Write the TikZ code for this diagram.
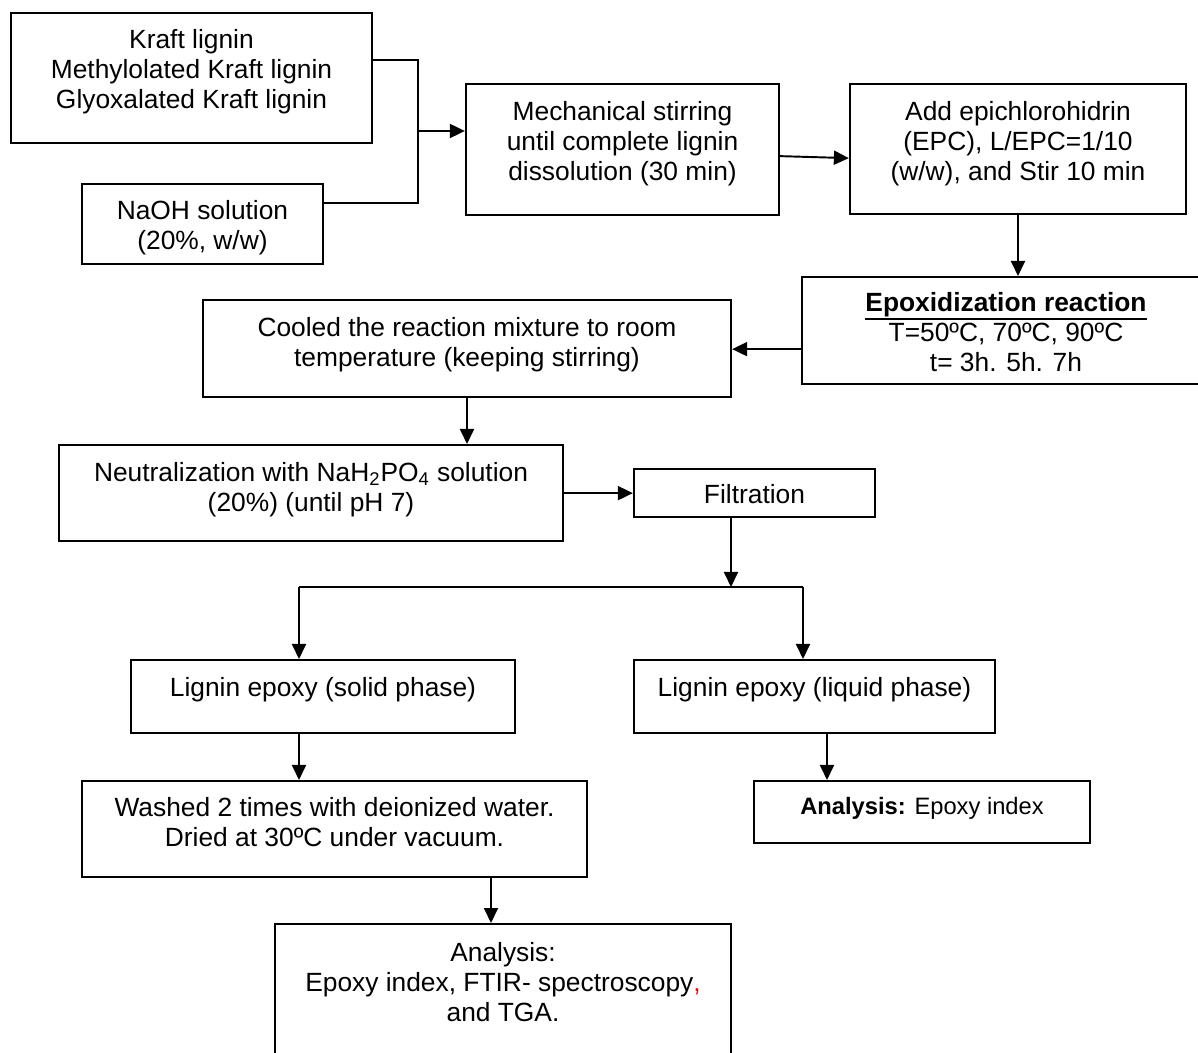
\documentclass[tikz,border=0pt]{standalone}
\usepackage{fontspec}
\setmainfont{Liberation Sans}
\usetikzlibrary{arrows.meta}
\newdimen\pxu \pxu=0.02cm
\newcommand\thickul[1]{\leavevmode\vtop{\hbox{#1}\kern0.6pt\hrule height1.4pt}}

\begin{document}
\begin{tikzpicture}[x=0.02cm, y=-0.02cm, font=\fontsize{15}{17}\selectfont,
  box/.style={draw, line width=1.3pt, align=center, anchor=north, inner xsep=0pt, inner ysep=0pt},
  link/.style={line width=1.1pt},
  arr/.style={link, -{Triangle[length=0.3cm,width=0.28cm]}}]
\useasboundingbox (0,0) rectangle (1198,1053);

% boxes, placed by the middle of their top edge
\node[box, minimum width=361\pxu, text height=95\pxu, text depth=35\pxu] (kraft) at (191.5,12) {Kraft lignin\\Methylolated Kraft lignin\\Glyoxalated Kraft lignin};
\node[box, minimum width=241\pxu, text height=65\pxu, text depth=15\pxu] (naoh) at (202.5,183) {NaOH solution\\(20\%, w/w)};
\node[box, minimum width=313\pxu, text height=96\pxu, text depth=35\pxu] (mech) at (622.5,83) {Mechanical stirring\\until complete lignin\\dissolution (30 min)};
\node[box, minimum width=336\pxu, text height=96\pxu, text depth=34\pxu] (epc) at (1018,83) {Add epichlorohidrin\\(EPC), L/EPC=1/10\\(w/w), and Stir 10 min};
\node[box, minimum width=408\pxu, text height=94\pxu, text depth=13\pxu] (epox) at (1006,276) {\thickul{\textbf{Epoxidization reaction}}\\T=50ºC, 70ºC, 90ºC\\t= 3h. 5h. 7h};
\node[box, minimum width=528\pxu, text height=66\pxu, text depth=31\pxu] (cool) at (467,299) {Cooled the reaction mixture to room\\temperature (keeping stirring)};
\node[box, minimum width=504\pxu, text height=66\pxu, text depth=30\pxu] (neut) at (311,444) {Neutralization with NaH\textsubscript{2}PO\textsubscript{4} solution\\(20\%) (until pH 7)};
\node[box, minimum width=241\pxu, text height=34\pxu, text depth=14\pxu] (filt) at (754.5,468) {Filtration};
\node[box, minimum width=384\pxu, text height=36\pxu, text depth=37\pxu] (solid) at (323,659) {Lignin epoxy (solid phase)};
\node[box, minimum width=361\pxu, text height=36\pxu, text depth=37\pxu] (liquid) at (814.5,659) {Lignin epoxy (liquid phase)};
\node[box, minimum width=505\pxu, text height=65\pxu, text depth=31\pxu] (washed) at (334.5,780) {Washed 2 times with deionized water.\\Dried at 30ºC under vacuum.};
\node[box, minimum width=336\pxu, text height=33\pxu, text depth=29\pxu, font=\fontsize{13.5}{16}\selectfont] (ana1) at (922,780) {\textbf{Analysis:} Epoxy index};
\node[box, minimum width=456\pxu, text height=97\pxu, text depth=43\pxu] (ana2) at (503,923) {Analysis:\\Epoxy index, FTIR- spectroscopy{\color{red},}\\and TGA.};

% connectors
\coordinate (join) at (418,131);
\draw[link] ([yshift=18\pxu]kraft.east) -| (join) |- ([yshift=21\pxu]naoh.east);
\draw[arr] (join) -- (join -| mech.west);
\draw[arr] ([yshift=-6.5\pxu]mech.east) -- ([yshift=-9\pxu]epc.west);
\draw[arr] (epc.south) -- (epc.south |- epox.north);
\coordinate (epin) at ([yshift=-18.5\pxu]epox.west);
\draw[arr] (epin) -- (epin -| cool.east);
\draw[arr] (cool.south) -- (cool.south |- neut.north);
\draw[arr] (neut.east) -- (neut.east -| filt.west);

\coordinate (split) at (731,587);
\coordinate (bl) at (299,587);
\coordinate (br) at (803,587);
\draw[arr] (split |- filt.south) -- (split);
\draw[link] (bl) -- (br);
\draw[arr] (bl) -- (bl |- solid.north);
\draw[arr] (br) -- (br |- liquid.north);
\draw[arr] (bl |- solid.south) -- (bl |- washed.north);
\coordinate (lq) at (827,0);
\draw[arr] (lq |- liquid.south) -- (lq |- ana1.north);
\coordinate (wq) at (491,0);
\draw[arr] (wq |- washed.south) -- (wq |- ana2.north);
\end{tikzpicture}
\end{document}
